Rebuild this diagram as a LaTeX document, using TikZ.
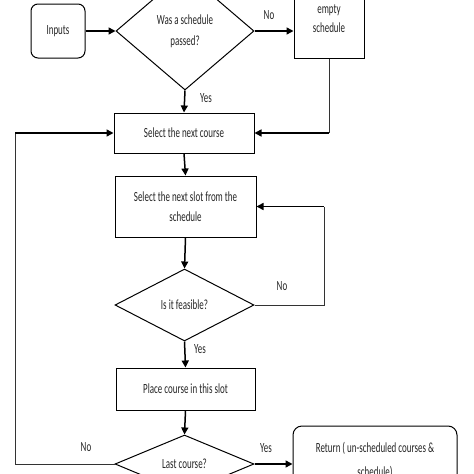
\documentclass[tikz,border=0pt]{standalone}
\usepackage{fontspec}
\setmainfont[FakeStretch=0.64]{Carlito}
\usetikzlibrary{arrows.meta,shapes.geometric}
\begin{document}
\begin{tikzpicture}[x=1pt,y=-1pt,
  every node/.style={font=\fontsize{14}{19}\selectfont,text=black!85},
  box/.style={draw,line width=1pt,inner sep=0pt,align=center},
  rbox/.style={box,rounded corners=7pt},
  dec/.style={draw,line width=1pt,shape=diamond,inner sep=0pt,align=center},
  arr/.style={line width=1.5pt,-{Triangle[length=7pt,width=7pt]}},
  thin/.style={line width=0.8pt,draw=black!80},
  lbl/.style={inner sep=0pt}]
\useasboundingbox (0,0) rectangle (474,474);
\clip (0,0) rectangle (474,474);
\fill[white] (0,0) rectangle (474,474);

\node[rbox,minimum width=54pt,minimum height=54pt] (inputs) at (58,31) {Inputs};
\node[dec,minimum width=138pt,minimum height=118pt,shape aspect=1.17,font=\fontsize{14}{21}\selectfont] (d1) at (185,31) {Was a schedule\\passed?};
\node[box,minimum width=70pt,minimum height=78pt] (empty) at (329,19) {empty\\schedule};
\node[box,minimum width=140pt,minimum height=40pt] (course) at (184,133) {Select the next course};
\node[box,minimum width=141pt,minimum height=61pt,font=\fontsize{14}{20}\selectfont] (slot) at (185.5,206.5) {Select the next slot from the\\schedule};
\node[dec,minimum width=139pt,minimum height=72pt,shape aspect=1.93] (feas) at (184.5,305) {Is it feasible?};
\node[box,minimum width=139pt,minimum height=42pt] (place) at (185.5,389) {Place course in this slot};
\node[dec,minimum width=139pt,minimum height=58pt,shape aspect=2.4] (last) at (184.5,464) {Last course?};
\node[rbox,minimum width=164pt,minimum height=68pt,rounded corners=9pt,font=\fontsize{14}{24}\selectfont] (ret) at (375,460) {Return ( un-scheduled courses \&\\schedule)};
\coordinate (lx) at (15,0);
\coordinate (rx) at (324,0);

\draw[arr] (inputs.east) -- (d1.west);
\draw[arr] (d1.east) -- (d1.east -| empty.west);
\draw[arr] (d1.south) -- (course.north);
\draw[thin] (empty.south) -- (empty.south |- course.east);
\draw[arr] (empty.south |- course.east) -- (course.east);
\draw[arr] (course.south) -- (slot.north);
\draw[arr] (slot.south) -- (feas.north);
\draw[thin] (feas.east) -- (feas.east -| rx) -- (slot.east -| rx);
\draw[arr] (slot.east -| rx) -- (slot.east);
\draw[arr] (feas.south) -- (place.north);
\draw[arr] (place.south) -- (last.north);
\draw[arr] (last.east) -- (last.east -| ret.west);
\draw[thin] (last.west) -- (last.west -| lx) -- (course.west -| lx);
\draw[arr] (course.west -| lx) -- (course.west);

\node[lbl] (l1) at (269,15) {No};
\node[lbl] (l2) at (206,98) {Yes};
\node[lbl] (l3) at (282,286) {No};
\node[lbl] (l4) at (200,349) {Yes};
\node[lbl] (l5) at (86,447) {No};
\node[lbl] (l6) at (266,448) {Yes};
\end{tikzpicture}
\end{document}
